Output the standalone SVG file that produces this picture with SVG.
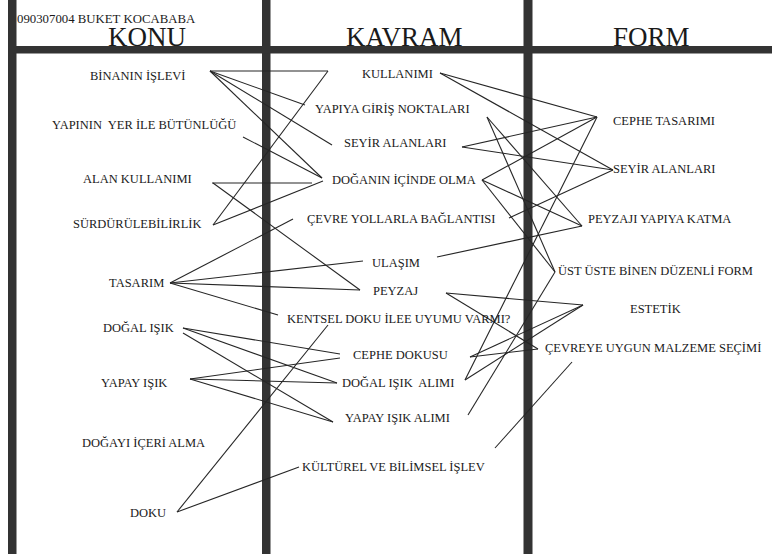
<svg xmlns="http://www.w3.org/2000/svg" width="772" height="554" viewBox="0 0 772 554">
<style>
.bar{fill:#333333}
.t{font-family:"Liberation Serif","Times New Roman",serif;font-size:12.5px;fill:#1a1a1a;white-space:pre}
.h{font-family:"Liberation Serif","Times New Roman",serif;font-size:27px;fill:#1a1a1a}
.hd{font-family:"Liberation Serif","Times New Roman",serif;font-size:12.8px;fill:#1a1a1a}
#connectors line{stroke:#262626;stroke-width:1.1;fill:none}
</style>
<rect width="772" height="554" fill="#ffffff"/>
<g id="frame">
<rect class="bar" x="8" y="0" width="8.5" height="554"/>
<rect class="bar" x="262" y="0" width="8.5" height="554"/>
<rect class="bar" x="523.5" y="0" width="9" height="554"/>
<rect class="bar" x="13" y="46" width="759" height="7.5"/>
</g>
<g id="headers">
<text class="hd" x="17" y="23">090307004 BUKET KOCABABA</text>
<text class="h" x="108" y="46">KONU</text>
<text class="h" x="346" y="46">KAVRAM</text>
<text class="h" x="613" y="46">FORM</text>
</g>
<g id="connectors">
<line x1="210" y1="71" x2="328" y2="71"/>
<line x1="328" y1="71" x2="213" y2="225"/>
<line x1="210" y1="71" x2="305" y2="105"/>
<line x1="210" y1="71" x2="332" y2="145"/>
<line x1="210" y1="71" x2="322" y2="178"/>
<line x1="243" y1="137" x2="322" y2="178"/>
<line x1="212" y1="183" x2="312" y2="183"/>
<line x1="213" y1="183" x2="360" y2="290"/>
<line x1="213" y1="225" x2="323" y2="181"/>
<line x1="170" y1="283" x2="293" y2="219"/>
<line x1="170" y1="283" x2="363" y2="261"/>
<line x1="170" y1="283" x2="360" y2="290"/>
<line x1="170" y1="283" x2="278" y2="315"/>
<line x1="183" y1="328" x2="340" y2="354"/>
<line x1="183" y1="328" x2="337" y2="383"/>
<line x1="183" y1="333" x2="333" y2="422"/>
<line x1="190" y1="379" x2="340" y2="358"/>
<line x1="190" y1="379" x2="337" y2="383"/>
<line x1="190" y1="379" x2="333" y2="422"/>
<line x1="177" y1="512" x2="328" y2="325"/>
<line x1="177" y1="512" x2="299" y2="467"/>
<line x1="440" y1="73" x2="597" y2="117"/>
<line x1="440" y1="73" x2="613" y2="170"/>
<line x1="487" y1="117" x2="555" y2="272"/>
<line x1="487" y1="117" x2="582" y2="226"/>
<line x1="462" y1="147" x2="597" y2="117"/>
<line x1="462" y1="147" x2="613" y2="170"/>
<line x1="482" y1="180" x2="597" y2="117"/>
<line x1="482" y1="180" x2="582" y2="226"/>
<line x1="482" y1="180" x2="555" y2="272"/>
<line x1="509" y1="218" x2="613" y2="170"/>
<line x1="437" y1="257" x2="582" y2="226"/>
<line x1="446" y1="293" x2="583" y2="305"/>
<line x1="446" y1="293" x2="538" y2="349"/>
<line x1="470" y1="357" x2="583" y2="305"/>
<line x1="470" y1="357" x2="538" y2="349"/>
<line x1="465" y1="380" x2="583" y2="305"/>
<line x1="465" y1="380" x2="597" y2="117"/>
<line x1="468" y1="415" x2="555" y2="272"/>
<line x1="572" y1="362" x2="495" y2="448"/>
</g>
<g id="konu-binanin"><text class="t" x="90" y="80">BİNANIN İŞLEVİ</text></g>
<g id="konu-yapinin"><text class="t" x="52" y="129">YAPININ  YER İLE BÜTÜNLÜĞÜ</text></g>
<g id="konu-alan"><text class="t" x="83" y="183">ALAN KULLANIMI</text></g>
<g id="konu-surdurulebilirlik"><text class="t" x="73" y="228">SÜRDÜRÜLEBİLİRLİK</text></g>
<g id="konu-tasarim"><text class="t" x="109" y="287">TASARIM</text></g>
<g id="konu-dogal-isik"><text class="t" x="103" y="332">DOĞAL IŞIK</text></g>
<g id="konu-yapay-isik"><text class="t" x="101" y="387">YAPAY IŞIK</text></g>
<g id="konu-dogayi"><text class="t" x="82" y="447">DOĞAYI İÇERİ ALMA</text></g>
<g id="konu-doku"><text class="t" x="130" y="517">DOKU</text></g>
<g id="kavram-kullanimi"><text class="t" x="362" y="78">KULLANIMI</text></g>
<g id="kavram-yapiya"><text class="t" x="315" y="113">YAPIYA GİRİŞ NOKTALARI</text></g>
<g id="kavram-seyir"><text class="t" x="344" y="147">SEYİR ALANLARI</text></g>
<g id="kavram-doganin"><text class="t" x="332" y="184">DOĞANIN İÇİNDE OLMA</text></g>
<g id="kavram-cevre"><text class="t" x="307" y="223">ÇEVRE YOLLARLA BAĞLANTISI</text></g>
<g id="kavram-ulasim"><text class="t" x="372" y="267">ULAŞIM</text></g>
<g id="kavram-peyzaj"><text class="t" x="373" y="295">PEYZAJ</text></g>
<g id="kavram-kentsel"><text class="t" x="287" y="323">KENTSEL DOKU İLEE UYUMU VARMI?</text></g>
<g id="kavram-cephe-dokusu"><text class="t" x="353" y="359">CEPHE DOKUSU</text></g>
<g id="kavram-dogal-isik-alimi"><text class="t" x="342" y="387">DOĞAL IŞIK  ALIMI</text></g>
<g id="kavram-yapay-isik-alimi"><text class="t" x="345" y="422">YAPAY IŞIK ALIMI</text></g>
<g id="kavram-kulturel"><text class="t" x="302" y="471">KÜLTÜREL VE BİLİMSEL İŞLEV</text></g>
<g id="form-cephe"><text class="t" x="613" y="125">CEPHE TASARIMI</text></g>
<g id="form-seyir"><text class="t" x="613" y="173">SEYİR ALANLARI</text></g>
<g id="form-peyzaji"><text class="t" x="588" y="223">PEYZAJI YAPIYA KATMA</text></g>
<g id="form-ust-uste"><text class="t" x="558" y="275">ÜST ÜSTE BİNEN DÜZENLİ FORM</text></g>
<g id="form-estetik"><text class="t" x="630" y="313">ESTETİK</text></g>
<g id="form-cevreye"><text class="t" x="545" y="352">ÇEVREYE UYGUN MALZEME SEÇİMİ</text></g>
</svg>
